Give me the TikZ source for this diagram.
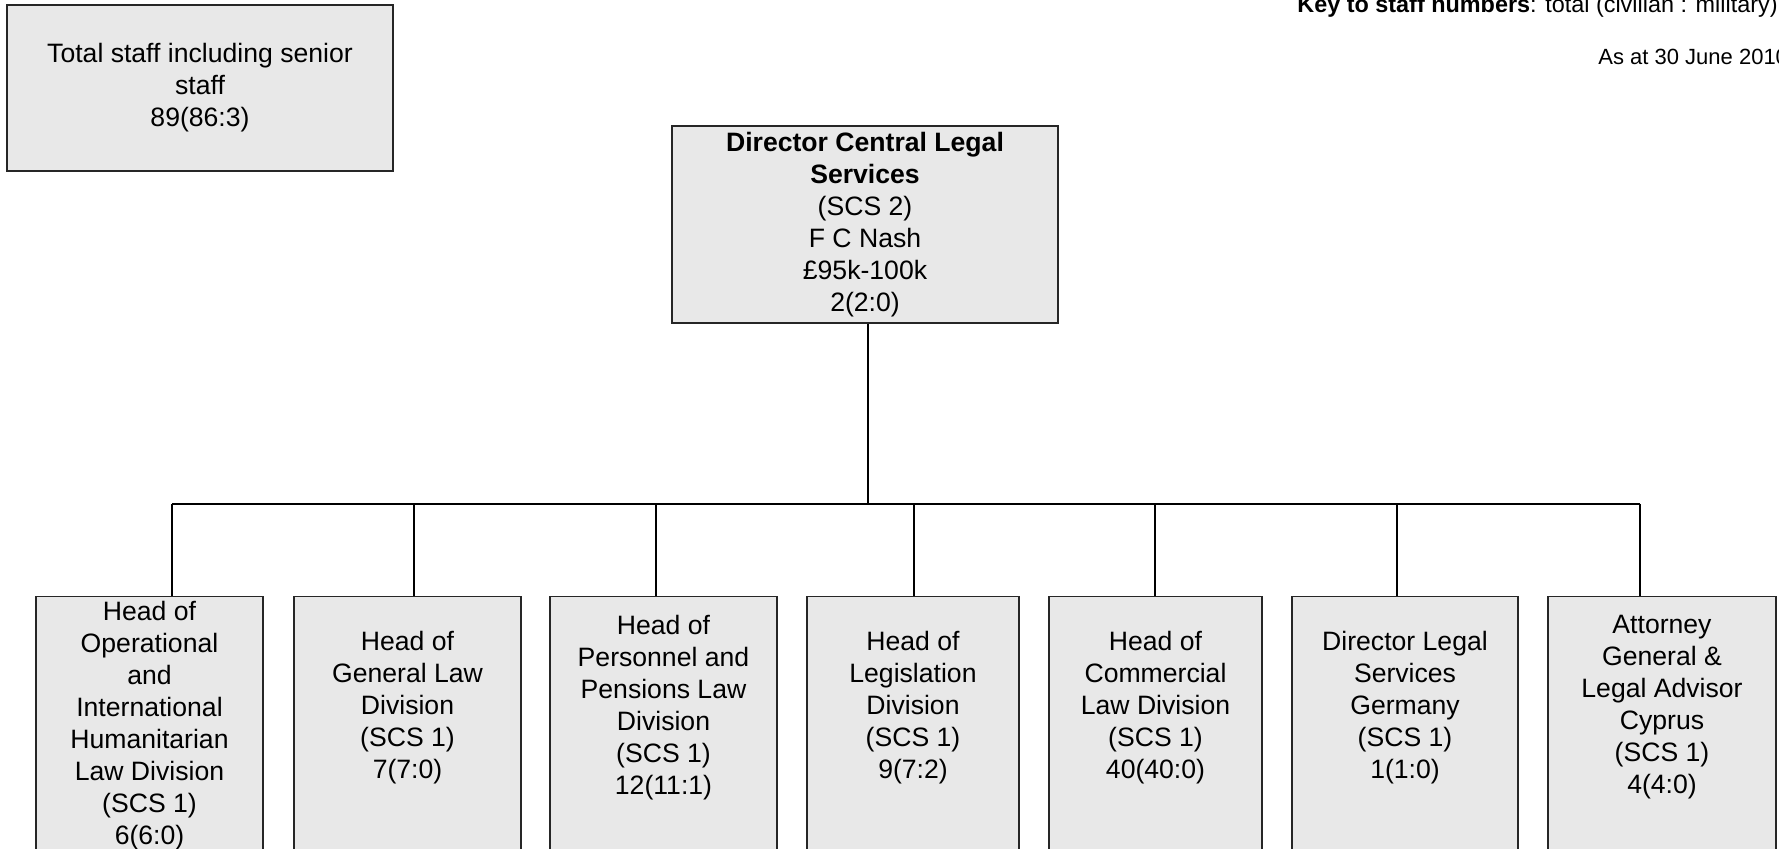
\documentclass[tikz,border=0pt]{standalone}
\usepackage{fontspec}
\setmainfont{Liberation Sans}
\tikzset{
  box/.style={draw=black!85, line width=0.65pt, fill=gray!18, inner sep=0pt},
  txt/.style={align=center, inner sep=0pt, font=\fontsize{13.3}{16}\selectfont},
  conn/.style={draw=black, line width=0.8pt},
  small/.style={inner sep=0pt, font=\fontsize{11}{13}\selectfont}
}
\begin{document}
\begin{tikzpicture}[x=0.5pt,y=-0.5pt]
\useasboundingbox (0,0) rectangle (1779,849);
\clip (0,0) rectangle (1779,849);

% key texts
\node[small, anchor=base west, font=\fontsize{11.7}{13}\selectfont] (key) at (1297,12.5) {\textbf{Key to staff numbers}: total (civilian : military)};
\node[small, anchor=base west] (date) at (1598,65) {As at 30 June 2010};

% total box
\node[box, txt, minimum width=193pt, minimum height=83pt] (total) at (200,88)
  {Total staff including senior\\staff\\89(86:3)};

% director
\node[box, txt, minimum width=193pt, minimum height=98.5pt] (dir) at (865,224.5)
  {\textbf{Director Central Legal}\\\textbf{Services}\\(SCS 2)\\F C Nash\\£95k-100k\\2(2:0)};

% bottom boxes (extend below the page)
\foreach \n/\c/\w in {1/149.5/227, 2/407.5/227, 3/663.5/227, 4/913/212, 5/1155.5/213, 6/1405/226, 7/1662/228}{
  \node[box, anchor=north, minimum width=\w*0.5pt, minimum height=160pt] (b\n) at (\c,596) {};
}
\node[txt] (t1) at (149.5,726) {Head of\\Operational\\and\\International\\Humanitarian\\Law Division\\(SCS 1)\\6(6:0)};
\node[txt] (t2) at (407.5,707.5) {Head of\\General Law\\Division\\(SCS 1)\\7(7:0)};
\node[txt] (t3) at (663.5,707.5) {Head of\\Personnel and\\Pensions Law\\Division\\(SCS 1)\\12(11:1)};
\node[txt] (t4) at (913,707.5) {Head of\\Legislation\\Division\\(SCS 1)\\9(7:2)};
\node[txt] (t5) at (1155.5,707.5) {Head of\\Commercial\\Law Division\\(SCS 1)\\40(40:0)};
\node[txt] (t6) at (1405,707.5) {Director Legal\\Services\\Germany\\(SCS 1)\\1(1:0)};
\node[txt] (t7) at (1662,707.5) {Attorney\\General \&\\Legal Advisor\\Cyprus\\(SCS 1)\\4(4:0)};

% connectors
\coordinate (j0) at (868,504);
\coordinate (j1) at (172,504);
\coordinate (j2) at (414,504);
\coordinate (j3) at (656,504);
\coordinate (j4) at (914,504);
\coordinate (j5) at (1155,504);
\coordinate (j6) at (1397,504);
\coordinate (j7) at (1640,504);
\draw[conn] (dir.south -| j0) -- (j0);
\draw[conn] (j1) -- (j7);
\foreach \n in {1,...,7}{
  \draw[conn] (j\n) -- (j\n |- b\n.north);
}
\end{tikzpicture}
\end{document}
